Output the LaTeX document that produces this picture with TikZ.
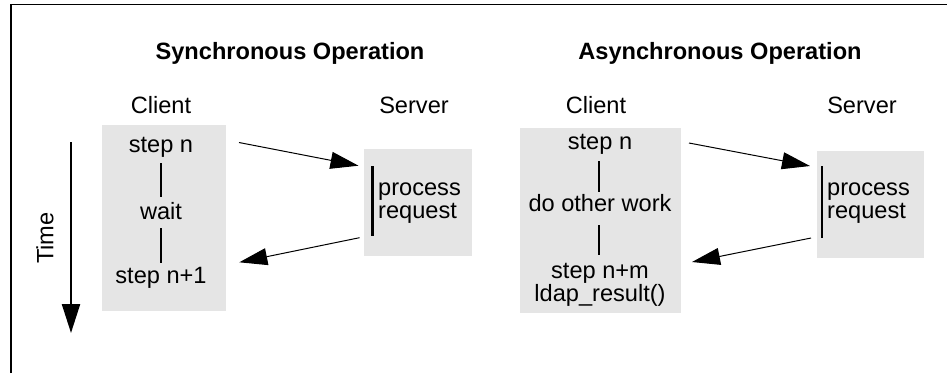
\documentclass[tikz,border=0pt]{standalone}
\usepackage{fontspec}
\setmainfont{Liberation Sans}
\usetikzlibrary{arrows.meta}
\begin{document}
\begin{tikzpicture}[x=1pt,y=-1pt,
  txt/.style={font=\fontsize{23.6}{23.3}\selectfont, inner sep=0pt, anchor=base},
  ptxt/.style={txt, anchor=base west},
  title/.style={txt, font=\fontsize{23.6}{23.3}\selectfont\bfseries},
  panel/.style={fill=black!10, draw=none, inner sep=0pt, anchor=north west},
  msg/.style={line width=1pt, -{Triangle[length=28pt,width=17pt]}},
  timearrow/.style={line width=2.3pt, -{Triangle[length=29pt,width=18pt]}},
  link/.style={line width=2pt},
  bar/.style={line width=2.8pt},
  frame/.style={line width=1.3pt}]
\useasboundingbox (0,0) rectangle (947,373);
% frame
\coordinate (fb) at (11,373);
\coordinate (fc) at (11,4.5);
\coordinate (fr) at (947,4.5);
\draw[frame] (fb) -- (fc) -- (fr);

% ===== Synchronous =====
\node[title] (t1) at (290,59) {Synchronous Operation};
\node[txt] (c1) at (161,113) {Client};
\node[txt] (s1) at (414,113) {Server};
\node[panel, minimum width=124pt, minimum height=186pt] (cb1) at (102,125) {};
\node[panel, minimum width=108pt, minimum height=107pt] (sb1) at (364,149) {};
\node[txt] (a1) at (161,152) {step n};
\node[txt] (b1) at (161,219) {wait};
\node[txt] (d1) at (161,283) {step n+1};
\node[ptxt] (p1) at (378,195) {process};
\node[ptxt] (r1) at (378,218) {request};
\coordinate (l1a) at (161,163); \coordinate (l1b) at (161,197);
\coordinate (l1c) at (161,228); \coordinate (l1d) at (161,263);
\draw[link] (l1a) -- (l1b);
\draw[link] (l1c) -- (l1d);
\coordinate (bar1a) at (372.3,166); \coordinate (bar1b) at (372.3,236);
\draw[bar] (bar1a) -- (bar1b);
\coordinate (m1s) at (239,142.5); \coordinate (m1e) at (358.5,165.7);
\coordinate (m2s) at (359.5,237.7); \coordinate (m2e) at (239.3,262.3);
\draw[msg] (m1s) -- (m1e);
\draw[msg] (m2s) -- (m2e);

% time
\coordinate (ts) at (71,142); \coordinate (te) at (71,333);
\draw[timearrow] (ts) -- (te);
\node[txt, rotate=90, anchor=center] (time) at (45,238) {Time};

% ===== Asynchronous =====
\node[title] (t2) at (720,59) {Asynchronous Operation};
\node[txt] (c2) at (596,113) {Client};
\node[txt] (s2) at (862,113) {Server};
\node[panel, minimum width=161pt, minimum height=185pt] (cb2) at (520,128) {};
\node[panel, minimum width=107pt, minimum height=107pt] (sb2) at (817,151) {};
\node[txt] (a2) at (600,149) {step n};
\node[txt] (b2) at (600,211) {do other work};
\node[txt] (d2) at (600,278) {step n+m};
\node[txt] (e2) at (600,301) {ldap\_result()};
\node[ptxt] (p2) at (827,195) {process};
\node[ptxt] (r2) at (827,218) {request};
\coordinate (l2a) at (599,161); \coordinate (l2b) at (599,192);
\coordinate (l2c) at (599,225); \coordinate (l2d) at (599,255);
\draw[link] (l2a) -- (l2b);
\draw[link] (l2c) -- (l2d);
\coordinate (bar2a) at (822,166); \coordinate (bar2b) at (822,238);
\draw[bar] (bar2a) -- (bar2b);
\coordinate (m3s) at (689,143); \coordinate (m3e) at (810,166);
\coordinate (m4s) at (811,238); \coordinate (m4e) at (692,262);
\draw[msg] (m3s) -- (m3e);
\draw[msg] (m4s) -- (m4e);
\end{tikzpicture}
\end{document}
